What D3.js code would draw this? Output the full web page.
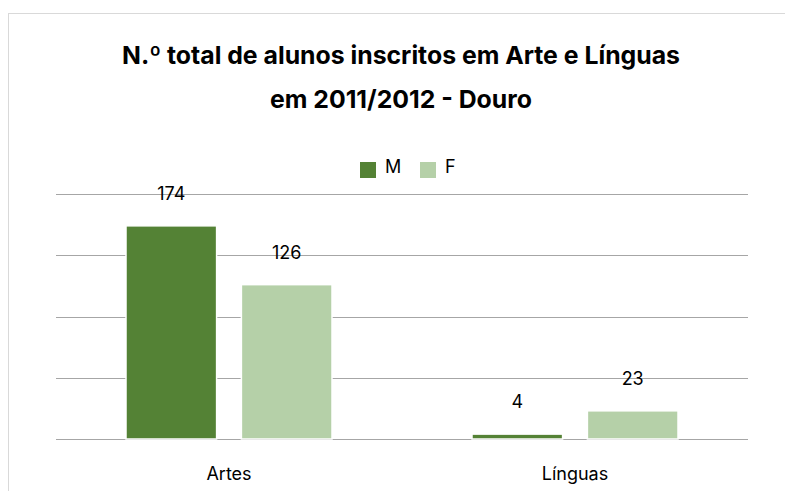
<!DOCTYPE html>
<html>
<head>
<meta charset="utf-8">
<script src="https://cdn.jsdelivr.net/npm/d3@7"></script>
<style>
  body { margin: 0; background: #fff; }
  svg { display: block; font-family: "Inter", "Noto Sans", sans-serif; }
</style>
</head>
<body>
<svg id="chart" width="785" height="491"></svg>
<script>
// chart data
var categories = ['Artes', 'Línguas'];
var seriesNames = ['M', 'F'];
var valuesM = [174, 4];
var valuesF = [126, 23];
var gridTicks = [0, 50, 100, 150, 200];
var titleLines = ['N.º total de alunos inscritos em Arte e Línguas', 'em 2011/2012 - Douro'];

var colors = { M: '#548235', F: '#b5d0a8' };

function main() {
	var svg = d3.select('#chart');

	// outer frame
	svg.append('rect')
		.attr('x', 8.5).attr('y', 13.5)
		.attr('width', 800).attr('height', 500)
		.attr('fill', 'none')
		.attr('stroke', '#d9d9d9');

	var x0 = d3.scaleBand().domain(categories).range([56, 748]).paddingInner(0).paddingOuter(0);
	var x1 = d3.scaleBand().domain(seriesNames).range([0, 206]).paddingInner(0.215);
	var y = d3.scaleLinear().domain([0, 200]).range([439, 194]);

	// gridlines
	svg.append('g').selectAll('line').data(gridTicks).enter().append('line')
		.attr('x1', 56).attr('x2', 748)
		.attr('y1', function(d) { return Math.round(y(d)) + 0.5; })
		.attr('y2', function(d) { return Math.round(y(d)) + 0.5; })
		.attr('stroke', '#a6a6a6')
		.attr('stroke-width', 1.2);

	var rows = categories.map(function(c, i) {
		return [{cat: c, s: 'M', v: valuesM[i]}, {cat: c, s: 'F', v: valuesF[i]}];
	});
	var flat = d3.merge(rows);

	var bx = function(d) { return x0(d.cat) + (x0.bandwidth() - 206) / 2 + x1(d.s); };

	svg.append('g').selectAll('rect').data(flat).enter().append('rect')
		.attr('x', bx)
		.attr('y', function(d) { return y(d.v); })
		.attr('width', x1.bandwidth())
		.attr('height', function(d) { return y(0) - y(d.v); })
		.attr('fill', function(d) { return colors[d.s]; })
		.attr('stroke', '#fff')
		.attr('stroke-width', 1.5);

	// value labels
	svg.append('g').selectAll('text').data(flat).enter().append('text')
		.attr('x', function(d) { return bx(d) + x1.bandwidth() / 2; })
		.attr('y', function(d) { return y(d.v) - 26; })
		.attr('text-anchor', 'middle')
		.attr('font-size', 18)
		.attr('fill', '#000')
		.text(function(d) { return d.v; });

	// category labels
	svg.append('g').selectAll('text').data(categories).enter().append('text')
		.attr('x', function(d) { return x0(d) + x0.bandwidth() / 2; })
		.attr('y', 480)
		.attr('text-anchor', 'middle')
		.attr('font-size', 18)
		.text(function(d) { return d; });

	// title
	svg.append('g').selectAll('text').data(titleLines).enter().append('text')
		.attr('x', 401)
		.attr('y', function(d, i) { return 64 + i * 44; })
		.attr('text-anchor', 'middle')
		.attr('font-size', 24.8)
		.attr('font-weight', 'bold')
		.attr('fill', '#000')
		.text(function(d) { return d; });

	// legend
	var legendX = [360, 420];
	var lg = svg.append('g').selectAll('g').data(seriesNames).enter().append('g')
		.attr('transform', function(d, i) { return 'translate(' + legendX[i] + ',162)'; });
	lg.append('rect').attr('width', 16).attr('height', 16)
		.attr('fill', function(d) { return colors[d]; });
	lg.append('text').attr('x', 25).attr('y', 11)
		.attr('font-size', 18)
		.text(function(d) { return d; });
}

main();
</script>
</body>
</html>
